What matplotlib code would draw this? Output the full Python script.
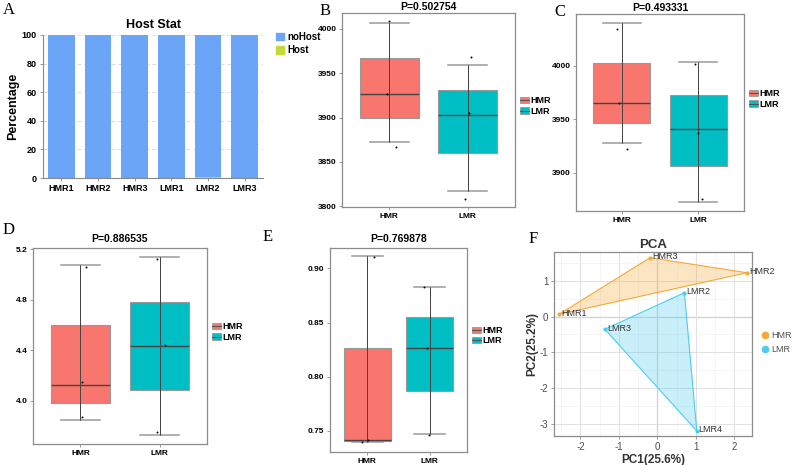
import matplotlib
matplotlib.use('Agg')
import matplotlib.pyplot as plt
from matplotlib.patches import Patch
from matplotlib.lines import Line2D
from matplotlib.ticker import MultipleLocator

plt.rcParams['font.family'] = ['Liberation Sans', 'DejaVu Sans']
plt.rcParams['axes.unicode_minus'] = False

# ---- data ----
samples = ['HMR1', 'HMR2', 'HMR3', 'LMR1', 'LMR2', 'LMR3']
no_host = [100, 100, 100, 100, 99.6, 100]
host = [0, 0, 0, 0, 0.4, 0]

groups = ['HMR', 'LMR']
# per panel: sample values (boxes), jittered points, p value
b_vals = [[3872, 3927, 4007], [3817, 3903, 3959]]
b_pts = [[4008.6, 3927, 3866.6], [3905, 3968, 3808]]
b_jit = [[0.0, -0.023, 0.084], [0.015, 0.042, -0.042]]
b_p = 'P=0.502754'

c_vals = [[3927.3, 3965.3, 4040.3], [3872, 3941.3, 4004]]
c_pts = [[4034.7, 3965.3, 3922.2], [4002.2, 3936.8, 3875.4]]
c_jit = [[-0.063, -0.042, 0.072], [-0.042, -0.007, 0.046]]
c_p = 'P=0.493331'

d_vals = [[3.846, 4.128, 5.074], [3.734, 4.434, 5.134]]
d_pts = [[5.056, 4.152, 3.872], [5.124, 4.444, 3.754]]
d_jit = [[0.076, 0.025, 0.017], [-0.029, 0.063, -0.038]]
d_p = 'P=0.886535'

e_vals = [[0.740, 0.7414, 0.911], [0.747, 0.827, 0.883]]
e_pts = [[0.9105, 0.742, 0.7395], [0.8827, 0.8269, 0.7466]]
e_jit = [[0.107, 0.011, -0.08], [-0.091, -0.048, -0.005]]
e_p = 'P=0.769878'

pca_names = ['HMR1', 'HMR3', 'HMR2', 'LMR2', 'LMR3', 'LMR4']
pca_group = ['HMR', 'HMR', 'HMR', 'LMR', 'LMR', 'LMR']
pc1 = [-2.557, -0.191, 2.33, 0.704, -1.365, 1.026]
pc2 = [0.065, 1.65, 1.23, 0.67, -0.354, -3.205]

# ---- layout ----
W, H = 795, 465
fig = plt.figure(figsize=(7.95, 4.65), dpi=100)


def px_axes(l, t, r, b):
    return fig.add_axes([l / W, 1 - b / H, (r - l) / W, (b - t) / H])


box_colors = {'HMR': '#F8766D', 'LMR': '#00BFC4'}

# ---- A: host stat ----
axA = px_axes(43, 35, 263, 178)
x = range(len(samples))
axA.bar(x, host, width=0.73, color='#C2DB3C', zorder=2)
axA.bar(x, no_host, bottom=host, width=0.73, color='#6AA5F7', zorder=2)
axA.set_xlim(-0.5, 5.5)
axA.set_ylim(0, 100)
axA.set_yticks(range(0, 101, 20))
axA.set_xticks(list(x))
axA.set_xticklabels(samples)
axA.yaxis.grid(True, ls=(0, (4, 3)), color='#dddddd', lw=0.7, zorder=0)
for s in ['top', 'right']:
    axA.spines[s].set_visible(False)
for s in ['left', 'bottom']:
    axA.spines[s].set_color('#888888')
    axA.spines[s].set_linewidth(0.8)
axA.tick_params(labelsize=6.5, length=2.5, width=0.6, color='#888888', pad=2)
for lab in axA.get_xticklabels() + axA.get_yticklabels():
    lab.set_fontweight('bold')
axA.set_ylabel('Percentage', fontsize=9, fontweight='bold', labelpad=2)
axA.set_title('Host Stat', fontsize=9, fontweight='bold', pad=5)
fig.legend(handles=[Patch(color='#6AA5F7', label='noHost'),
                    Patch(color='#C2DB3C', label='Host')],
           loc='center left', bbox_to_anchor=(276 / W, 1 - 43.5 / H),
           frameon=False, handlelength=0.8, handleheight=0.8, borderaxespad=0,
           borderpad=0, handletextpad=0.4, labelspacing=0.35,
           prop={'weight': 'bold', 'size': 7})


# ---- boxplot panels ----
def box_panel(rect, vals, pts, jit, ptxt, ylim, yticks, yfmt, leg_xy, pad):
    ax = px_axes(*rect)
    pos = [1, 2]
    bp = ax.boxplot(vals, positions=pos, widths=0.75, whis=(0, 100),
                    patch_artist=True, capwidths=0.5, showfliers=False)
    for patch, g in zip(bp['boxes'], groups):
        patch.set_facecolor(box_colors[g])
        patch.set_edgecolor('#999999')
        patch.set_linewidth(0.8)
    for m in bp['medians']:
        m.set_color('#444444')
        m.set_linewidth(1.0)
    for w in bp['whiskers']:
        w.set_color('#444444')
        w.set_linewidth(0.7)
    for c in bp['caps']:
        c.set_color('#9a9a9a')
        c.set_linewidth(1.1)
    for p, v in zip(pos, vals):
        ax.vlines(p, min(v), max(v), color='#444444', lw=0.7, zorder=3)
    for p, yy, jj in zip(pos, pts, jit):
        ax.scatter([p + j for j in jj], yy, s=2, color='black', zorder=4, lw=0)
    ax.set_xlim(0.4, 2.6)
    ax.set_ylim(*ylim)
    ax.set_yticks(yticks)
    ax.set_yticklabels([yfmt.format(t) for t in yticks])
    ax.set_xticks(pos)
    ax.set_xticklabels(groups)
    for s in ax.spines.values():
        s.set_color('#8c8c8c')
        s.set_linewidth(0.9)
    ax.tick_params(labelsize=6, length=2, width=0.6, color='#8c8c8c', pad=2)
    for lab in ax.get_xticklabels() + ax.get_yticklabels():
        lab.set_fontweight('bold')
    ax.set_title(ptxt, fontsize=7.5, fontweight='bold', pad=pad)
    handles = [(Patch(facecolor=box_colors[g], edgecolor='#999999', lw=0.6),
                Line2D([], [], color='#555555', lw=0.8)) for g in groups]
    fig.legend(handles, groups, loc='center left',
               bbox_to_anchor=(leg_xy[0] / W, 1 - leg_xy[1] / H),
               frameon=False, handlelength=1.0, handleheight=0.7,
               handletextpad=0.2, labelspacing=0.15, borderpad=0,
               borderaxespad=0, prop={'weight': 'bold', 'size': 6.5})
    return ax


box_panel((342, 13, 515, 207), b_vals, b_pts, b_jit, b_p, (3799, 4018),
          [3800, 3850, 3900, 3950, 4000], '{:.0f}', (520, 106), 2.5)
box_panel((576, 14, 744, 211), c_vals, c_pts, c_jit, c_p, (3864, 4048.7),
          [3900, 3950, 4000], '{:.0f}', (749, 99), 2.5)
box_panel((33, 248, 207, 444), d_vals, d_pts, d_jit, d_p, (3.66, 5.208),
          [4.0, 4.4, 4.8, 5.2], '{:.1f}', (211.5, 332), 4)
box_panel((330, 248, 467, 452), e_vals, e_pts, e_jit, e_p, (0.7306, 0.9188),
          [0.75, 0.80, 0.85, 0.90], '{:.2f}', (472, 335.5), 4.5)

# ---- F: PCA ----
pca_colors = {'HMR': '#F5A936', 'LMR': '#4FCBEF'}
axF = px_axes(554, 252, 752, 436)
axF.set_xlim(-2.687, 2.461)
axF.set_ylim(-3.345, 1.811)
axF.xaxis.set_major_locator(MultipleLocator(1))
axF.yaxis.set_major_locator(MultipleLocator(1))
axF.xaxis.set_minor_locator(MultipleLocator(0.5))
axF.yaxis.set_minor_locator(MultipleLocator(0.5))
axF.grid(True, which='major', color='#dcdcdc', lw=0.6, zorder=0)
axF.grid(True, which='minor', color='#eeeeee', lw=0.4, zorder=0)
axF.axhline(0, color='#9a9a9a', lw=0.8, zorder=1)
axF.axvline(0, color='#9a9a9a', lw=0.8, zorder=1)
for g in groups:
    xs = [a for a, gg in zip(pc1, pca_group) if gg == g]
    ys = [b for b, gg in zip(pc2, pca_group) if gg == g]
    axF.fill(xs, ys, facecolor=pca_colors[g], alpha=0.3, zorder=2)
    axF.fill(xs, ys, facecolor='none', edgecolor=pca_colors[g], lw=0.8, zorder=3)
    axF.scatter(xs, ys, s=9, color=pca_colors[g], zorder=4, lw=0, label=g)
for n, a, b in zip(pca_names, pc1, pc2):
    axF.text(a + 0.05, b + 0.03, n, fontsize=6.5, color='#333333',
             ha='left', va='center', zorder=5)
for s in axF.spines.values():
    s.set_color('#8c8c8c')
    s.set_linewidth(0.9)
axF.tick_params(which='major', labelsize=7, length=2, width=0.6,
                color='#8c8c8c', labelcolor='#4d4d4d', pad=2)
axF.tick_params(which='minor', length=0)
axF.set_xlabel('PC1(25.6%)', fontsize=8.5, fontweight='bold', color='#333333', labelpad=2)
axF.set_ylabel('PC2(25.2%)', fontsize=8.5, fontweight='bold', color='#333333', labelpad=1)
axF.set_title('PCA', fontsize=9.5, fontweight='bold', color='#333333', pad=3)
fig.legend(handles=[Line2D([], [], marker='o', ls='', ms=4.5, color=pca_colors[g],
                           label=g) for g in groups],
           loc='center left', bbox_to_anchor=(760.5 / W, 1 - 342.5 / H), frameon=False,
           handlelength=1.0, handletextpad=0.2, labelspacing=0.55, borderpad=0,
           borderaxespad=0, prop={'size': 6.5}, labelcolor='#4d4d4d')

# ---- panel letters ----
for letter, (lx, ly) in zip('ABCDEF', [(9, 10), (325, 11), (560, 12),
                                       (9, 230), (268, 237), (533, 239)]):
    fig.text(lx / W, 1 - ly / H, letter, fontsize=12,
             family=['Liberation Serif', 'DejaVu Serif'], ha='center', va='center')

fig.savefig('out.png', dpi=100)
